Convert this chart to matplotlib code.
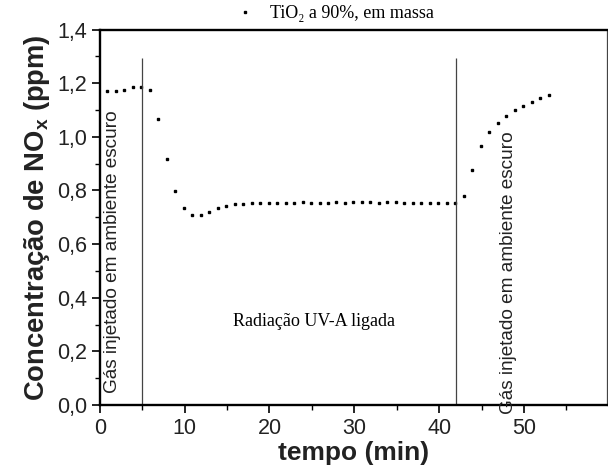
import numpy as np
import matplotlib
matplotlib.use('Agg')
import matplotlib.pyplot as plt
from matplotlib.ticker import MultipleLocator, FuncFormatter

plt.rcParams['font.family'] = ['Liberation Sans', 'DejaVu Sans']
plt.rcParams['mathtext.fontset'] = 'custom'
plt.rcParams['mathtext.rm'] = 'Liberation Sans'
plt.rcParams['mathtext.bf'] = 'Liberation Sans:bold'

# tempo (min) e concentracao de NOx (ppm)
tempo = [0.8, 1.9, 2.9, 3.9, 4.9, 5.9, 6.9, 7.9, 8.9, 9.9,
         10.9, 11.9, 12.9, 13.9, 14.9, 15.9, 16.9, 17.9, 18.9, 19.9,
         20.9, 21.9, 22.9, 23.9, 24.9, 25.9, 26.9, 27.9, 28.9, 29.9,
         30.9, 31.9, 32.9, 33.9, 34.9, 35.9, 36.9, 37.9, 38.9, 39.9,
         40.9, 41.9, 42.9, 43.9, 44.9, 45.9, 46.9, 47.9, 48.9, 49.9,
         50.9, 51.9, 52.9]
nox = [1.170, 1.172, 1.176, 1.185, 1.186, 1.176, 1.068, 0.918, 0.797, 0.733,
       0.708, 0.708, 0.718, 0.735, 0.743, 0.749, 0.751, 0.752, 0.754, 0.755,
       0.755, 0.754, 0.755, 0.756, 0.755, 0.754, 0.755, 0.756, 0.755, 0.756,
       0.757, 0.756, 0.755, 0.756, 0.756, 0.755, 0.755, 0.754, 0.754, 0.753,
       0.753, 0.752, 0.779, 0.878, 0.964, 1.017, 1.052, 1.076, 1.099, 1.114,
       1.131, 1.144, 1.155]

uv_liga = 5
uv_desliga = 42
y_ticks = [0.0, 0.2, 0.4, 0.6, 0.8, 1.0, 1.2, 1.4]
x_ticks = [0, 10, 20, 30, 40, 50]

fig = plt.figure(figsize=(6.08, 4.76), dpi=100)
ax = fig.add_axes([0.164, 0.149, 0.834, 0.789])

ax.plot(tempo, nox, 's', color='black', markersize=1.8, linestyle='none',
        label='TiO₂ a 90%, em massa')

ax.vlines([uv_liga, uv_desliga], 0, 1.295, color='#444444', linewidth=0.9)

gas = 'Gás injetado em ambiente escuro'
ax.text(1.45, 0.045, gas, rotation=90, ha='center', va='bottom', fontsize=13.7,
        color='#222222')
ax.text(48.15, -0.035, gas, rotation=90, ha='center', va='bottom', fontsize=13.7,
        color='#222222')
ax.text(25.2, 0.31, 'Radiação UV-A ligada', ha='center', va='center',
        fontsize=13, family=['Liberation Serif', 'DejaVu Serif'])

ax.set_xlim(0, 59.75)
ax.set_ylim(0, 1.4)
ax.set_xticks(x_ticks)
ax.set_yticks(y_ticks)
ax.xaxis.set_minor_locator(MultipleLocator(5))
ax.yaxis.set_minor_locator(MultipleLocator(0.1))
ax.yaxis.set_major_formatter(FuncFormatter(lambda v, p: f'{v:.1f}'.replace('.', ',')))
ax.tick_params(which='major', direction='out', length=6, width=1.2, labelsize=15.5,
               pad=3, labelcolor='#222222')
ax.tick_params(which='minor', direction='out', length=3.5, width=1.0)

for s in ['left', 'bottom', 'top']:
    ax.spines[s].set_linewidth(1.7)
ax.spines['right'].set_linewidth(0.9)
ax.spines['right'].set_color('#444444')

ax.set_xlabel('tempo (min)', fontsize=19, fontweight='bold', labelpad=2,
              color='#222222')
ax.set_ylabel(r'Concentração de NO$_\mathbf{x}$ (ppm)', fontsize=19.7,
              fontweight='bold', labelpad=4, color='#222222')

ax.legend(loc='center', bbox_to_anchor=(0.551, 0.971), bbox_transform=fig.transFigure,
          frameon=False, handlelength=1.0, handletextpad=0.9, markerscale=1.0,
          prop={'family': ['Liberation Serif', 'DejaVu Serif'], 'size': 13})

fig.savefig('out.png', dpi=100)
